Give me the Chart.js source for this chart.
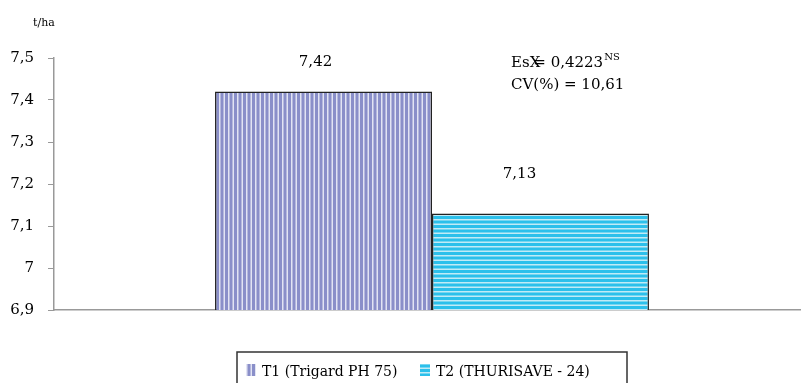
<!DOCTYPE html>
<html>
<head>
<meta charset="utf-8">
<script src="https://cdn.jsdelivr.net/npm/chart.js@4.4.1/dist/chart.umd.min.js"></script>
<style>
  html, body { margin: 0; padding: 0; background: #fff; overflow: hidden; }
  #wrap { width: 801px; height: 383px; overflow: hidden; }
  canvas { display: block; }
</style>
</head>
<body>
<div id="wrap"><canvas id="c" width="810" height="383"></canvas></div>
<script>
// Yield per treatment (t/ha)
const categories = [''];
const seriesNames = ['T1 (Trigard PH 75)', 'T2 (THURISAVE - 24)'];
const t1Values = [7.42];
const t2Values = [7.13];
const yTicks = [6.9, 7.0, 7.1, 7.2, 7.3, 7.4, 7.5];
const statSymbol = 'EsX';
const statLines = ['= 0,4223', 'CV(%) = 10,61'];
const statSuper = 'NS';
const unitLabel = 't/ha';

const FONT = '"DejaVu Serif", serif';

function stripePattern(base, light, vertical) {
  const p = document.createElement('canvas');
  p.width = 9; p.height = 9;
  const g = p.getContext('2d');
  g.fillStyle = base;
  g.fillRect(0, 0, 9, 9);
  g.fillStyle = light;
  if (vertical) { g.fillRect(3, 0, 1.5, 9); g.fillRect(7.5, 0, 1.5, 9); }
  else { g.fillRect(0, 3, 9, 1.5); g.fillRect(0, 7.5, 9, 1.5); }
  return g.createPattern(p, 'repeat');
}

const fmt = v => String(v).replace('.', ',');

const pat1 = stripePattern('#8a8fc9', '#e2e4f3', true);
const pat2 = stripePattern('#2cc0eb', '#c2ebf6', false);

// Value labels above each bar, plus the text notes and a boxed legend
const decorations = {
  id: 'decorations',
  afterDatasetsDraw(chart) {
    const ctx = chart.ctx;
    ctx.save();
    ctx.fillStyle = '#000';
    ctx.font = '15px ' + FONT;
    ctx.textAlign = 'center';
    ctx.textBaseline = 'alphabetic';
    const lift = [26, 35];
    const shift = [-8, -21];
    chart.data.datasets.forEach((ds, i) => {
      const meta = chart.getDatasetMeta(i);
      meta.data.forEach((bar, j) => {
        ctx.fillText(fmt(ds.data[j]), bar.x + shift[i], bar.y - lift[i]);
      });
    });

    // unit label
    ctx.textAlign = 'left';
    ctx.font = '11px ' + FONT;
    ctx.fillText(unitLabel, 33, 26);

    // statistics note: the "=" sits tight against the symbol
    ctx.font = '15px ' + FONT;
    ctx.fillText(statSymbol, 511, 67);
    const sx = 511 + ctx.measureText(statSymbol).width - 7;
    ctx.fillText(statLines[0], sx, 67);
    const w = ctx.measureText(statLines[0]).width;
    ctx.font = '10px ' + FONT;
    ctx.fillText(statSuper, sx + w + 1, 60);
    ctx.font = '15px ' + FONT;
    ctx.fillText(statLines[1], 511, 89);

    // legend box
    ctx.strokeStyle = '#333';
    ctx.lineWidth = 1.5;
    ctx.strokeRect(237, 352, 390, 40);
    ctx.font = '14px ' + FONT;
    const items = [
      { x: 246, tx: 262 },
      { x: 420, tx: 436 }
    ];
    chart.data.datasets.forEach((ds, i) => {
      const it = items[i];
      ctx.fillStyle = ds.backgroundColor;
      ctx.fillRect(it.x, 364, 10, 12);
      ctx.fillStyle = '#000';
      ctx.fillText(ds.label, it.tx, 376);
    });
    ctx.restore();
  }
};

new Chart(document.getElementById('c'), {
  type: 'bar',
  data: {
    labels: categories,
    datasets: [
      { label: seriesNames[0], data: t1Values, backgroundColor: pat1, borderColor: '#222', borderWidth: 1.5, borderSkipped: false },
      { label: seriesNames[1], data: t2Values, backgroundColor: pat2, borderColor: '#222', borderWidth: 1.5, borderSkipped: false }
    ]
  },
  options: {
    responsive: false,
    animation: false,
    layout: { padding: { top: 58, right: 0, left: 0, bottom: 0 } },
    datasets: { bar: { categoryPercentage: 0.574, barPercentage: 1 } },
    plugins: { legend: { display: false }, tooltip: { enabled: false } },
    scales: {
      x: {
        grid: { display: false },
        ticks: { display: false },
        border: { color: '#999', width: 1.5 },
        afterFit: s => { s.height = 73; }
      },
      y: {
        min: 6.9,
        max: 7.5,
        afterFit: s => { s.width = 54; },
        afterBuildTicks: s => { s.ticks = yTicks.map(v => ({ value: v })); },
        grid: { drawOnChartArea: false, drawTicks: true, tickLength: 6, color: '#999' },
        border: { color: '#999', width: 1.5 },
        ticks: {
          color: '#000',
          padding: 14,
          font: { family: FONT, size: 15 },
          callback: v => fmt(Math.round(v * 10) / 10)
        }
      }
    }
  },
  plugins: [decorations]
});
</script>
</body>
</html>
